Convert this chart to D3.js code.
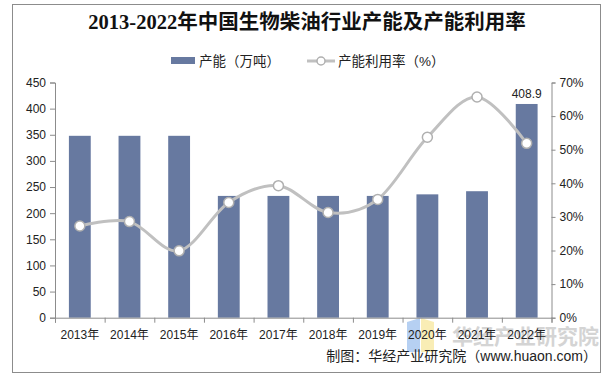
<!DOCTYPE html>
<html><head><meta charset="utf-8">
<script src="https://cdn.jsdelivr.net/npm/d3@7"></script>
<style>body{margin:0;background:#fff;}svg{display:block;}</style>
</head><body>
<svg id="c" width="610" height="379"></svg>
<script>
const categories = ["2013年","2014年","2015年","2016年","2017年","2018年","2019年","2020年","2021年","2022年"];
const capacity = [348, 348, 348, 233, 233, 233, 233, 236, 242, 408.9];
const utilization = [27.3, 28.6, 19.9, 34.3, 39.3, 31.3, 35.2, 53.7, 65.7, 51.9];
const leftTicks = [0,50,100,150,200,250,300,350,400,450];
const rightTicks = [0,10,20,30,40,50,60,70];
const labeled = {"2022年":"408.9"};

const svg = d3.select("#c");
const font = "'Liberation Sans', Arial, 'Noto Sans CJK SC', sans-serif";
const m = {l:55, r:551.5, t:82.5, b:317.7};

svg.append("rect").attr("x",12.5).attr("y",4.5).attr("width",588).attr("height",368)
  .attr("fill","#fff").attr("stroke","#8c8c8c").attr("stroke-width",1);

// watermark
const wm = svg.append("g");
wm.append("path").attr("d","M407,322 L420,318 L420,352 L407,352 Z").attr("fill","#a9c8f0").attr("opacity",0.85);
wm.append("path").attr("d","M421,318 L434,322 L434,352 L421,352 Z").attr("fill","#f8eaa8").attr("opacity",0.85);
wm.append("text").attr("x",452).attr("y",344).attr("font-size",21).attr("font-weight","bold")
  .attr("font-family","'Noto Sans CJK SC', sans-serif").attr("fill","#d4d4d4").text("华经产业研究院");

const x = d3.scaleBand().domain(categories).range([m.l, m.r]).paddingInner(0.56).paddingOuter(0.28);
const y = d3.scaleLinear().domain([0,450]).range([m.b, m.t]);
const y2 = d3.scaleLinear().domain([0,70]).range([m.b, m.t]);

// bars
svg.append("g").selectAll("rect").data(categories).join("rect")
  .attr("x", d=>x(d)).attr("width", x.bandwidth())
  .attr("y", (d,i)=>y(capacity[i])).attr("height",(d,i)=>m.b - y(capacity[i]))
  .attr("fill","#6779a0");

// data label
svg.append("g").selectAll("text").data(categories.filter(c=>labeled[c])).join("text")
  .attr("x", d=>x(d)+x.bandwidth()/2).attr("y", d=>y(capacity[categories.indexOf(d)])-6)
  .attr("text-anchor","middle").attr("font-size",12).attr("font-family",font).attr("fill","#222")
  .text(d=>labeled[d]);

// left axis
const ax = svg.append("g").attr("transform",`translate(${m.l},0)`)
  .call(d3.axisLeft(y).tickValues(leftTicks).tickSize(5).tickPadding(4));
// right axis
const ax2 = svg.append("g").attr("transform",`translate(${m.r},0)`)
  .call(d3.axisRight(y2).tickValues(rightTicks).tickSize(4).tickPadding(4).tickFormat(d=>d+"%"));
// bottom axis
const xb = d3.scaleLinear().domain([0,categories.length]).range([m.l, m.r]);
const axb = svg.append("g").attr("transform",`translate(0,${m.b})`)
  .call(d3.axisBottom(xb).tickValues(d3.range(categories.length+1)).tickSize(5).tickFormat(""));
svg.append("g").selectAll("text").data(categories).join("text")
  .attr("x", d=>x(d)+x.bandwidth()/2).attr("y", 339)
  .attr("text-anchor","middle").attr("font-size",12).attr("font-family",font).attr("fill","#222").text(d=>d);

[ax,ax2,axb].forEach(g=>{
  g.selectAll("path.domain").attr("stroke","#8c8c8c");
  g.selectAll(".tick line").attr("stroke","#8c8c8c");
  g.selectAll("text").attr("font-size",12).attr("font-family",font).attr("fill","#222");
});

// line
const pts = categories.map((c,i)=>[x(c)+x.bandwidth()/2, y2(utilization[i])]);
svg.append("path").attr("d", d3.line().curve(d3.curveCardinal.tension(0))(pts))
  .attr("fill","none").attr("stroke","#c0c0c0").attr("stroke-width",3);
svg.append("g").selectAll("circle").data(pts).join("circle")
  .attr("cx",d=>d[0]).attr("cy",d=>d[1]).attr("r",5)
  .attr("fill","#fff").attr("stroke","#b0b0b0").attr("stroke-width",1.5);

// title
svg.append("text").attr("x",307).attr("y",29).attr("text-anchor","middle")
  .attr("font-size",20.5).attr("font-weight","bold")
  .attr("font-family","'Liberation Serif','Noto Sans CJK SC', serif").attr("fill","#111")
  .text("2013-2022年中国生物柴油行业产能及产能利用率");

// legend
const lg = svg.append("g").attr("font-family",font).attr("font-size",13.5).attr("fill","#222");
lg.append("rect").attr("x",171).attr("y",57).attr("width",24).attr("height",7).attr("fill","#6779a0");
lg.append("text").attr("x",199).attr("y",66).text("产能（万吨）");
lg.append("line").attr("x1",307).attr("x2",335).attr("y1",61).attr("y2",61).attr("stroke","#c0c0c0").attr("stroke-width",3);
lg.append("circle").attr("cx",321).attr("cy",61).attr("r",4).attr("fill","#fff").attr("stroke","#b0b0b0").attr("stroke-width",1.5);
lg.append("text").attr("x",338).attr("y",66).text("产能利用率（%）");

// footer
svg.append("text").attr("x",597).attr("y",361).attr("text-anchor","end")
  .attr("font-size",14).attr("font-family",font).attr("fill","#222")
  .text("制图：华经产业研究院（www.huaon.com）");
</script>
</body></html>
